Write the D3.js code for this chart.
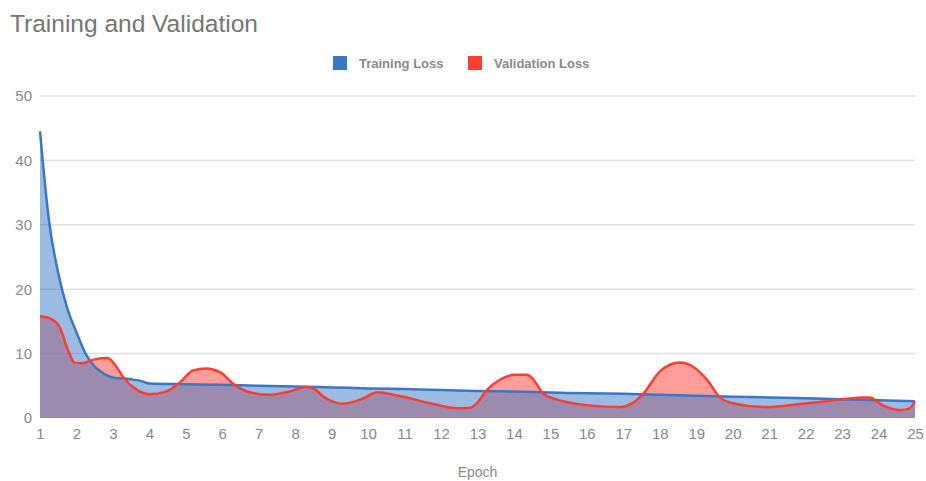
<!DOCTYPE html>
<html>
<head>
<meta charset="utf-8">
<script src="https://cdn.jsdelivr.net/npm/d3@7/dist/d3.min.js"></script>
<style>
  html, body { margin: 0; padding: 0; background: #fff; }
  svg { display: block; font-family: Arial, "Liberation Sans", sans-serif; }
</style>
</head>
<body>
<svg id="chart" width="926" height="481"></svg>
<script>
// ---- data ----
const chartTitle = "Training and Validation";
const xAxisTitle = "Epoch";
const seriesNames = ["Training Loss", "Validation Loss"];
const xTicks = d3.range(1, 26);
const yTicks = [0, 10, 20, 30, 40, 50];

const trainEpochs = [1, 1.25, 1.5, 1.75, 2, 2.25, 2.5, 2.75, 3, 3.5, 3.8, 4,
  5, 6, 7, 8, 9, 10, 11, 12, 13, 14, 15, 16, 17, 18, 19, 20, 21, 22, 23, 24, 25];
const trainLoss = [44.5, 30.5, 22.5, 17.0, 13.3, 10.0, 8.0, 6.9, 6.3, 6.0, 5.7, 5.35,
  5.25, 5.15, 5.0, 4.9, 4.75, 4.6, 4.5, 4.35, 4.2, 4.1, 3.95, 3.85, 3.75, 3.6, 3.45, 3.3, 3.2, 3.05, 2.9, 2.75, 2.6];

const valEpochs = [1.0, 1.3, 1.55, 1.75, 1.95, 2.15, 2.5, 2.85, 3.05, 3.3, 3.65, 4.0, 4.45, 4.85,
  5.2, 5.55, 5.95, 6.3, 6.75, 7.3, 7.9, 8.3, 8.55, 8.8, 9.05, 9.3, 9.85, 10.25, 10.8, 11.7,
  12.45, 12.8, 13.0, 13.25, 13.6, 14.05, 14.35, 14.5, 14.8, 15.1, 16.0, 16.9, 17.25, 17.55,
  18.0, 18.55, 18.9, 19.3, 19.65, 20.0, 20.9, 21.9, 22.85, 23.55, 23.75, 24.1, 24.6, 24.85, 25.0];
const valLoss = [15.8, 15.4, 14.0, 10.8, 8.6, 8.5, 9.1, 9.3, 8.3, 6.2, 4.4, 3.7, 4.1, 5.6,
  7.4, 7.7, 7.1, 5.3, 4.0, 3.6, 4.2, 4.8, 4.4, 3.2, 2.5, 2.2, 3.0, 4.0, 3.5, 2.3,
  1.5, 1.6, 2.4, 4.3, 5.9, 6.7, 6.7, 6.2, 3.8, 3.0, 2.0, 1.7, 2.3, 3.8,
  7.2, 8.6, 8.0, 5.9, 3.2, 2.3, 1.7, 2.2, 2.8, 3.2, 3.2, 2.0, 1.25, 1.5, 2.6];

const colors = ["#3a78c6", "#ff3d33"];

// ---- layout ----
const svg = d3.select("#chart");
const plotLeft = 40, plotRight = 915, plotTop = 96, plotBottom = 418;

const x = d3.scaleLinear().domain([1, 25]).range([plotLeft, plotRight]);
const y = d3.scaleLinear().domain([0, 50]).range([plotBottom, plotTop]);

// title
svg.append("text").attr("x", 10).attr("y", 32)
  .attr("font-size", 24.5).attr("fill", "#757575").text(chartTitle);

// grid lines
svg.append("g").selectAll("line").data(yTicks.filter(d => d > 0)).join("line")
  .attr("x1", plotLeft).attr("x2", plotRight)
  .attr("y1", d => y(d)).attr("y2", d => y(d))
  .attr("stroke", "#e0e0e0").attr("stroke-width", 1.5);

// y axis labels
const yAxis = svg.append("g").attr("transform", `translate(${plotLeft - 8},0)`)
  .call(d3.axisLeft(y).tickValues(yTicks).tickSize(0).tickPadding(0));
yAxis.select(".domain").remove();
yAxis.selectAll("text").attr("font-size", 15).attr("fill", "#888888")
  .attr("font-family", "Arial, 'Liberation Sans', sans-serif");

// x axis labels
const xAxis = svg.append("g").attr("transform", `translate(0,${plotBottom + 10})`)
  .call(d3.axisBottom(x).tickValues(xTicks).tickFormat(d3.format("d")).tickSize(0).tickPadding(0));
xAxis.select(".domain").remove();
xAxis.selectAll("text").attr("font-size", 15).attr("fill", "#888888")
  .attr("font-family", "Arial, 'Liberation Sans', sans-serif");

// x axis title
svg.append("text").attr("x", (plotLeft + plotRight) / 2).attr("y", 477)
  .attr("text-anchor", "middle").attr("font-size", 14).attr("fill", "#888888").text(xAxisTitle);

const train = trainEpochs.map((e, i) => ({ e, v: trainLoss[i] }));
const val = valEpochs.map((e, i) => ({ e, v: valLoss[i] }));

const curve = d3.curveMonotoneX;
const area = d3.area().x(d => x(d.e)).y0(y(0)).y1(d => y(d.v)).curve(curve);
const line = d3.line().x(d => x(d.e)).y(d => y(d.v)).curve(curve);

// areas: validation first, training on top (gives purple overlap)
svg.append("path").datum(val).attr("d", area).attr("fill", colors[1]).attr("fill-opacity", 0.5);
svg.append("path").datum(train).attr("d", area).attr("fill", colors[0]).attr("fill-opacity", 0.5);

// lines
svg.append("path").datum(train).attr("d", line).attr("fill", "none")
  .attr("stroke", colors[0]).attr("stroke-width", 2.5).attr("stroke-linejoin", "round");
svg.append("path").datum(val).attr("d", line).attr("fill", "none")
  .attr("stroke", colors[1]).attr("stroke-width", 2.5).attr("stroke-linejoin", "round");

// legend
const legendItems = [
  { name: seriesNames[0], color: colors[0], sx: 333, tx: 359 },
  { name: seriesNames[1], color: colors[1], sx: 468, tx: 494 }
];
const lg = svg.append("g");
legendItems.forEach(it => {
  lg.append("rect").attr("x", it.sx).attr("y", 56).attr("width", 14).attr("height", 14)
    .attr("fill", it.color);
  lg.append("text").attr("x", it.tx).attr("y", 67.5).attr("font-size", 13)
    .attr("font-weight", "bold").attr("fill", "#8a8a8a").text(it.name);
});
</script>
</body>
</html>
